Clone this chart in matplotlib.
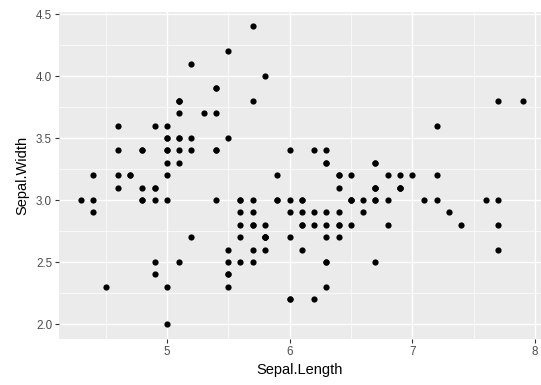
import numpy as np
import matplotlib.pyplot as plt

# Fisher's iris: sepal measurements (cm)
sepal_length = [
    5.1, 4.9, 4.7, 4.6, 5.0, 5.4, 4.6, 5.0, 4.4, 4.9, 5.4, 4.8, 4.8, 4.3, 5.8, 5.7, 5.4, 5.1, 5.7, 5.1,
    5.4, 5.1, 4.6, 5.1, 4.8, 5.0, 5.0, 5.2, 5.2, 4.7, 4.8, 5.4, 5.2, 5.5, 4.9, 5.0, 5.5, 4.9, 4.4, 5.1,
    5.0, 4.5, 4.4, 5.0, 5.1, 4.8, 5.1, 4.6, 5.3, 5.0,
    7.0, 6.4, 6.9, 5.5, 6.5, 5.7, 6.3, 4.9, 6.6, 5.2, 5.0, 5.9, 6.0, 6.1, 5.6, 6.7, 5.6, 5.8, 6.2, 5.6,
    5.9, 6.1, 6.3, 6.1, 6.4, 6.6, 6.8, 6.7, 6.0, 5.7, 5.5, 5.5, 5.8, 6.0, 5.4, 6.0, 6.7, 6.3, 5.6, 5.5,
    5.5, 6.1, 5.8, 5.0, 5.6, 5.7, 5.7, 6.2, 5.1, 5.7,
    6.3, 5.8, 7.1, 6.3, 6.5, 7.6, 4.9, 7.3, 6.7, 7.2, 6.5, 6.4, 6.8, 5.7, 5.8, 6.4, 6.5, 7.7, 7.7, 6.0,
    6.9, 5.6, 7.7, 6.3, 6.7, 7.2, 6.2, 6.1, 6.4, 7.2, 7.4, 7.9, 6.4, 6.3, 6.1, 7.7, 6.3, 6.4, 6.0, 6.9,
    6.7, 6.9, 5.8, 6.8, 6.7, 6.7, 6.3, 6.5, 6.2, 5.9,
]
sepal_width = [
    3.5, 3.0, 3.2, 3.1, 3.6, 3.9, 3.4, 3.4, 2.9, 3.1, 3.7, 3.4, 3.0, 3.0, 4.0, 4.4, 3.9, 3.5, 3.8, 3.8,
    3.4, 3.7, 3.6, 3.3, 3.4, 3.0, 3.4, 3.5, 3.4, 3.2, 3.1, 3.4, 4.1, 4.2, 3.1, 3.2, 3.5, 3.6, 3.0, 3.4,
    3.5, 2.3, 3.2, 3.5, 3.8, 3.0, 3.8, 3.2, 3.7, 3.3,
    3.2, 3.2, 3.1, 2.3, 2.8, 2.8, 3.3, 2.4, 2.9, 2.7, 2.0, 3.0, 2.2, 2.9, 2.9, 3.1, 3.0, 2.7, 2.2, 2.5,
    3.2, 2.8, 2.5, 2.8, 2.9, 3.0, 2.8, 3.0, 2.9, 2.6, 2.4, 2.4, 2.7, 2.7, 3.0, 3.4, 3.1, 2.3, 3.0, 2.5,
    2.6, 3.0, 2.6, 2.3, 2.7, 3.0, 2.9, 2.9, 2.5, 2.8,
    3.3, 2.7, 3.0, 2.9, 3.0, 3.0, 2.5, 2.9, 2.5, 3.6, 3.2, 2.7, 3.0, 2.5, 2.8, 3.2, 3.0, 3.8, 2.6, 2.2,
    3.2, 2.8, 2.8, 2.7, 3.3, 3.2, 2.8, 3.0, 2.8, 3.0, 2.8, 3.8, 2.8, 2.8, 2.6, 3.0, 3.4, 3.1, 3.0, 3.1,
    3.1, 3.1, 2.7, 3.2, 3.3, 3.0, 2.5, 3.0, 3.4, 3.0,
]

x_ticks = [5, 6, 7, 8]
y_ticks = [2.0, 2.5, 3.0, 3.5, 4.0, 4.5]

plt.rcParams['font.family'] = ['Liberation Sans', 'DejaVu Sans']

fig = plt.figure(figsize=(5.41, 3.85), dpi=100)
ax = fig.add_axes([0.109, 0.1195, 0.891, 0.8505])
ax.set_facecolor('#EBEBEB')
for s in ax.spines.values():
    s.set_visible(False)

ax.set_xlim(4.12, 8.05)
ax.set_ylim(1.88, 4.52)
ax.set_xticks(x_ticks)
ax.set_yticks(y_ticks)
ax.set_xticklabels([str(t) for t in x_ticks])
ax.set_yticklabels([f'{t:.1f}' for t in y_ticks])
ax.set_xticks([4.5, 5.5, 6.5, 7.5], minor=True)
ax.set_yticks([2.25, 2.75, 3.25, 3.75, 4.25], minor=True)

ax.grid(which='major', color='white', linewidth=1.0)
ax.grid(which='minor', color='white', linewidth=0.5)
ax.set_axisbelow(True)
ax.tick_params(which='major', length=3, width=0.8, color='#333333',
               labelcolor='#4D4D4D', labelsize=8.4, pad=2)
ax.tick_params(which='minor', length=0)

ax.scatter(sepal_length, sepal_width, s=20, color='black', linewidths=0, zorder=3)

ax.set_xlabel('Sepal.Length', fontsize=10.5, labelpad=4)
ax.set_ylabel('Sepal.Width', fontsize=10.5, labelpad=5)

fig.savefig('out.png', dpi=100)
